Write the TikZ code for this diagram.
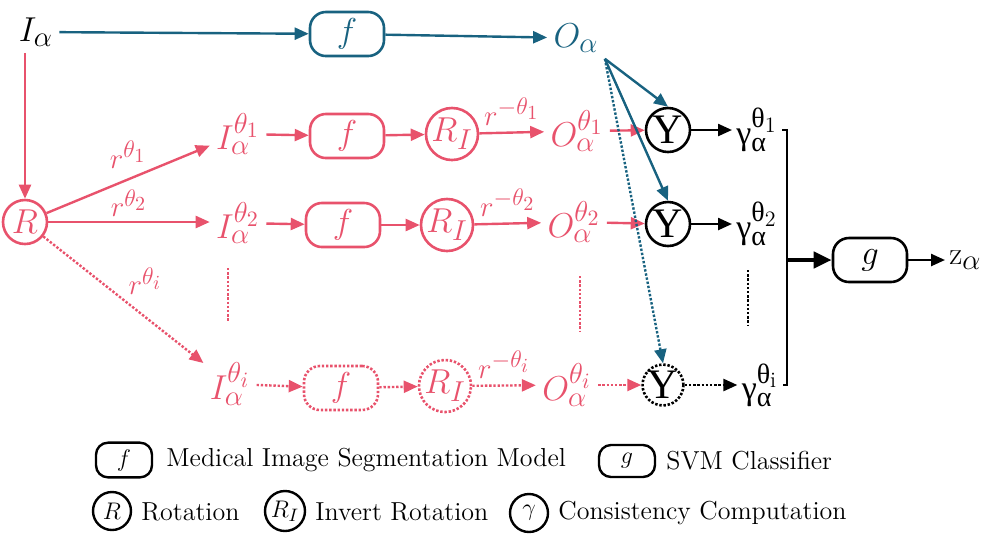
\documentclass[tikz,border=0pt]{standalone}
\usepackage{amsmath,amssymb}
\usepackage{fontspec}
\newfontfamily\GrkFont{Liberation Serif}
\usepackage{tikz}
\usetikzlibrary{arrows.meta}
\usepackage{xcolor}
\definecolor{ColBlue}{RGB}{24,98,128}
\definecolor{ColPink}{RGB}{232,82,108}
% larger scripts, as in the drawing
\DeclareMathSizes{16}{16}{13.5}{11}
\DeclareMathSizes{14}{14}{12}{10}
\DeclareMathSizes{17}{17}{14}{11}
\newcommand{\GamLab}[1]{$\text{\GrkFont γ}_{\text{\GrkFont α}}^{\text{\GrkFont θ}_{\text{#1}}}$}
\newcommand{\UpsGlyph}{{\GrkFont Υ}}
\tikzstyle{BoxModel}=[draw,rounded corners=8pt,minimum width=37pt,minimum height=22pt,
line width=1.3pt,font=\fontsize{17}{19}\selectfont]
\tikzstyle{CircOp}=[draw,circle,minimum size=22pt,inner sep=0pt,line width=1.3pt]
\tikzstyle{Label}=[font=\fontsize{16}{18}\selectfont,inner sep=3pt]
\tikzstyle{RLabel}=[font=\fontsize{14}{16}\selectfont,inner sep=2pt]
\tikzstyle{GLabel}=[font=\fontsize{17}{19}\selectfont,inner sep=2pt]
\tikzstyle{LegText}=[font=\fontsize{13}{15}\selectfont,anchor=west,inner sep=0pt]
\tikzstyle{ArrowLine}=[line width=1.2pt,-{Triangle[length=7pt,width=6pt]}]
\tikzstyle{DotLine}=[dash pattern=on 1.2pt off 0.9pt]

\begin{document}
\begin{tikzpicture}[x=0.5pt,y=-0.5pt]
        \useasboundingbox (0,0) rectangle (1000,543);
        % top branch
        \node[Label](Iin)at(36,32){$I_\alpha$};
        \node[BoxModel,ColBlue](fTop)at(347,34){$f$};
        \node[Label,text=ColBlue](Oout)at(576,38){$O_\alpha$};
        \draw[ArrowLine,ColBlue](Iin)--(fTop);
        \draw[ArrowLine,ColBlue](fTop)--(Oout);
        \node[CircOp,ColPink,font=\fontsize{18}{20}\selectfont](Rot)at(25,222){$R$};
        \draw[ArrowLine,ColPink](Rot|-Iin.south)--(Rot);
        % row 1
        \node[Label,ColPink](I1)at(238,134){$I_\alpha^{\theta_1}$};
        \node[BoxModel,ColPink](f1)at(347,136){$f$};
        \node[CircOp,ColPink,minimum size=24pt,font=\fontsize{16}{18}\selectfont](RI1)at(452,134){$R_I$};
        \node[Label,ColPink](O1)at(577,131){$O_\alpha^{\theta_1}$};
        \node[CircOp,font=\fontsize{21}{23}\selectfont](Y1)at(668,130){\UpsGlyph};
        \node[GLabel](G1)at(757,130){\GamLab{1}};
        \draw[ArrowLine,ColPink](Rot)--node[RLabel,midway,above,yshift=3pt]{$r^{\theta_1}$}(I1);
        \draw[ArrowLine,ColPink](I1)--(f1);
        \draw[ArrowLine,ColPink](f1)--(RI1);
        \draw[ArrowLine,ColPink](RI1)--node[RLabel,midway,above,yshift=1pt]{$r^{-\theta_1}$}(O1);
        \draw[ArrowLine,ColPink](O1)--(Y1);
        \draw[ArrowLine](Y1)--(G1);
        % row 2
        \node[Label,ColPink](I2)at(238,223){$I_\alpha^{\theta_2}$};
        \node[BoxModel,ColPink](f2)at(343,225){$f$};
        \node[CircOp,ColPink,minimum size=24pt,font=\fontsize{16}{18}\selectfont](RI2)at(447,225){$R_I$};
        \node[Label,ColPink](O2)at(574,222){$O_\alpha^{\theta_2}$};
        \node[CircOp,font=\fontsize{21}{23}\selectfont](Y2)at(668,224){\UpsGlyph};
        \node[GLabel](G2)at(757,224){\GamLab{2}};
        \draw[ArrowLine,ColPink](Rot)--node[RLabel,midway,above]{$r^{\theta_2}$}(Rot-|I2.west);
        \draw[ArrowLine,ColPink](I2)--(f2);
        \draw[ArrowLine,ColPink](f2)--(RI2);
        \draw[ArrowLine,ColPink](RI2)--node[RLabel,midway,above,yshift=1pt]{$r^{-\theta_2}$}(O2);
        \draw[ArrowLine,ColPink](O2)--(Y2);
        \draw[ArrowLine](Y2)--(G2);
        % row i
        \node[Label,ColPink](Ii)at(230,384){$I_\alpha^{\theta_i}$};
        \node[BoxModel,DotLine,ColPink](fi)at(341,388){$f$};
        \node[CircOp,DotLine,ColPink,minimum size=24pt,font=\fontsize{16}{18}\selectfont](RIi)at(445,386){$R_I$};
        \node[Label,ColPink](Oi)at(567,385){$O_\alpha^{\theta_i}$};
        \node[CircOp,DotLine,minimum size=20pt,font=\fontsize{21}{23}\selectfont](Yi)at(663,385){\UpsGlyph};
        \node[GLabel](Gi)at(760,385){\GamLab{i}};
        \draw[ArrowLine,DotLine,ColPink](Rot)--node[RLabel,midway,above right]{$r^{\theta_i}$}(Ii);
        \draw[ArrowLine,DotLine,ColPink](Ii)--(fi);
        \draw[ArrowLine,DotLine,ColPink](fi)--(RIi);
        \draw[ArrowLine,DotLine,ColPink](RIi)--node[RLabel,midway,above,yshift=1pt]{$r^{-\theta_i}$}(Oi);
        \draw[ArrowLine,DotLine,ColPink](Oi)--(Yi);
        \draw[ArrowLine,DotLine](Yi)--(Gi);
        % vertical dots
        \draw[DotLine,ColPink,line width=1.2pt](228,268)--(228,322);
        \draw[DotLine,ColPink,line width=1.2pt](580,276)--(580,332);
        \draw[DotLine,line width=1.2pt](748,270)--(748,325);
        % consistency inputs
        \draw[ArrowLine,ColBlue](Oout.south east)--(Y1.north);
        \draw[ArrowLine,ColBlue](Oout.south east)--(Y2.north);
        \draw[ArrowLine,DotLine,ColBlue](Oout.south east)--(Yi.north);
        % classifier
        \coordinate(BrMid)at(787,260);
        \node[BoxModel](gBox)at(870,260){$g$};
        \node[Label,anchor=west,inner sep=2pt](zOut)at(945,260){$\mathrm{z}_\alpha$};
        \draw[line width=0.8pt](G1.east)-|(BrMid)|-(Gi.east);
        \draw[line width=2.2pt,-{Triangle[length=9pt,width=8pt]}](BrMid)--(gBox);
        \draw[ArrowLine](gBox)--(zOut);
        % legend
        \node[BoxModel,minimum width=28pt,minimum height=16pt,rounded corners=6pt,
        line width=1.2pt,font=\fontsize{13}{15}\selectfont](LegF)at(124,460){$f$};
        \node[LegText](LegFTxt)at(166,460){Medical Image Segmentation Model};
        \node[BoxModel,minimum width=28pt,minimum height=16pt,rounded corners=6pt,
        line width=1.2pt,font=\fontsize{13}{15}\selectfont](LegG)at(627,461){$g$};
        \node[LegText](LegGTxt)at(666,461){SVM Classifier};
        \node[CircOp,minimum size=19pt,line width=1.2pt,font=\fontsize{13}{15}\selectfont](LegR)at(112,511){$R$};
        \node[LegText](LegRTxt)at(141,512){Rotation};
        \node[CircOp,minimum size=20pt,line width=1.2pt,font=\fontsize{13}{15}\selectfont](LegRI)at(285,511){$R_I$};
        \node[LegText](LegRITxt)at(315,512){Invert Rotation};
        \node[CircOp,minimum size=19pt,line width=1.2pt,font=\fontsize{13}{15}\selectfont](LegY)at(529,513){$\gamma$};
        \node[LegText](LegYTxt)at(558,513){Consistency Computation};
    \end{tikzpicture}
\end{document}
